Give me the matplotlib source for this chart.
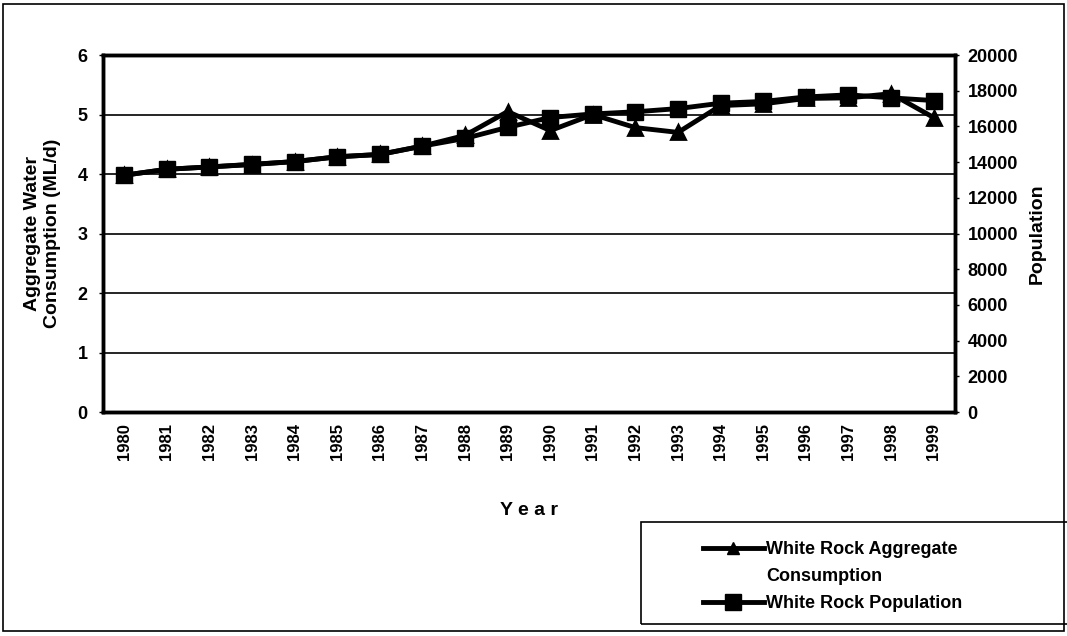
import matplotlib
matplotlib.use("Agg")
import matplotlib.pyplot as plt
from matplotlib.patches import Rectangle
from matplotlib.lines import Line2D

years = [str(y) for y in range(1980, 2000)]
consumption = [3.98, 4.08, 4.12, 4.16, 4.21, 4.29, 4.33, 4.47, 4.65, 5.05,
               4.73, 5.00, 4.78, 4.70, 5.15, 5.18, 5.27, 5.28, 5.35, 4.95]
population = [13270, 13600, 13730, 13880, 14030, 14300, 14430, 14900, 15330, 15950,
              16500, 16700, 16820, 17000, 17300, 17400, 17650, 17770, 17600, 17450]

plt.rcParams['font.family'] = ['Liberation Sans', 'DejaVu Sans']

fig = plt.figure(figsize=(10.67, 6.36), dpi=100)
ax = fig.add_axes([0.0965, 0.352, 0.7985, 0.5615])
ax2 = ax.twinx()

x = list(range(len(years)))
ax.plot(x, consumption, color='black', lw=3.5, marker='^', ms=10,
        mfc='black', mec='black', mew=2, zorder=3)
ax2.plot(x, population, color='black', lw=3.5, marker='s', ms=11,
         mfc='black', mec='black', zorder=4)

ax.set_xlim(-0.5, len(years) - 0.5)
ax.set_ylim(0, 6)
ax2.set_ylim(0, 20000)
ax.set_yticks(range(0, 7))
ax2.set_yticks(range(0, 20001, 2000))
ax.set_xticks(x)
ax.set_xticklabels(years, rotation=90, fontsize=12, fontweight='bold',
                   family=['Liberation Sans Narrow', 'Liberation Sans', 'DejaVu Sans'])
for t in ax.get_yticklabels():
    t.set_fontsize(13); t.set_fontweight('bold')
for t in ax2.get_yticklabels():
    t.set_fontsize(13); t.set_fontweight('bold')

ax.grid(axis='y', color='black', lw=1.2)
ax.set_axisbelow(True)
for a in (ax, ax2):
    for s in a.spines.values():
        s.set_linewidth(2.5)
ax.tick_params(axis='y', length=3, width=1, pad=8)
ax2.tick_params(axis='y', length=3, width=1, pad=6)
ax.tick_params(axis='x', length=0, pad=8)

ax.set_ylabel("Aggregate Water\nConsumption (ML/d)", fontsize=14,
              fontweight='bold', labelpad=12)
ax2.set_ylabel("Population", fontsize=14, fontweight='bold', labelpad=8)
ax.set_xlabel("Y e a r", fontsize=14, fontweight='bold', labelpad=30)

h1 = Line2D([], [], color='black', lw=3.5, marker='^', ms=9,
            mfc='black', mec='black')
h_blank = Line2D([], [], color='none', lw=0)
h2 = Line2D([], [], color='black', lw=3.5, marker='s', ms=11,
            mfc='black', mec='black')
leg = fig.legend([h1, h_blank, h2],
                 ["White Rock Aggregate", "Consumption", "White Rock Population"],
                 loc='upper left', bbox_to_anchor=(0.650, 0.163),
                 frameon=False, fontsize=13,
                 handlelength=3.4, handletextpad=0.1, borderpad=0.0,
                 labelspacing=0.55)
for t in leg.get_texts():
    t.set_fontweight('bold')

fig.add_artist(Rectangle((0.601, 0.019), 0.45, 0.161, transform=fig.transFigure,
                         fill=False, edgecolor='black', lw=1.2))
fig.add_artist(Rectangle((0.003, 0.008), 0.994, 0.985, transform=fig.transFigure,
                         fill=False, edgecolor='black', lw=1.2))

fig.savefig("out.png", dpi=100)
